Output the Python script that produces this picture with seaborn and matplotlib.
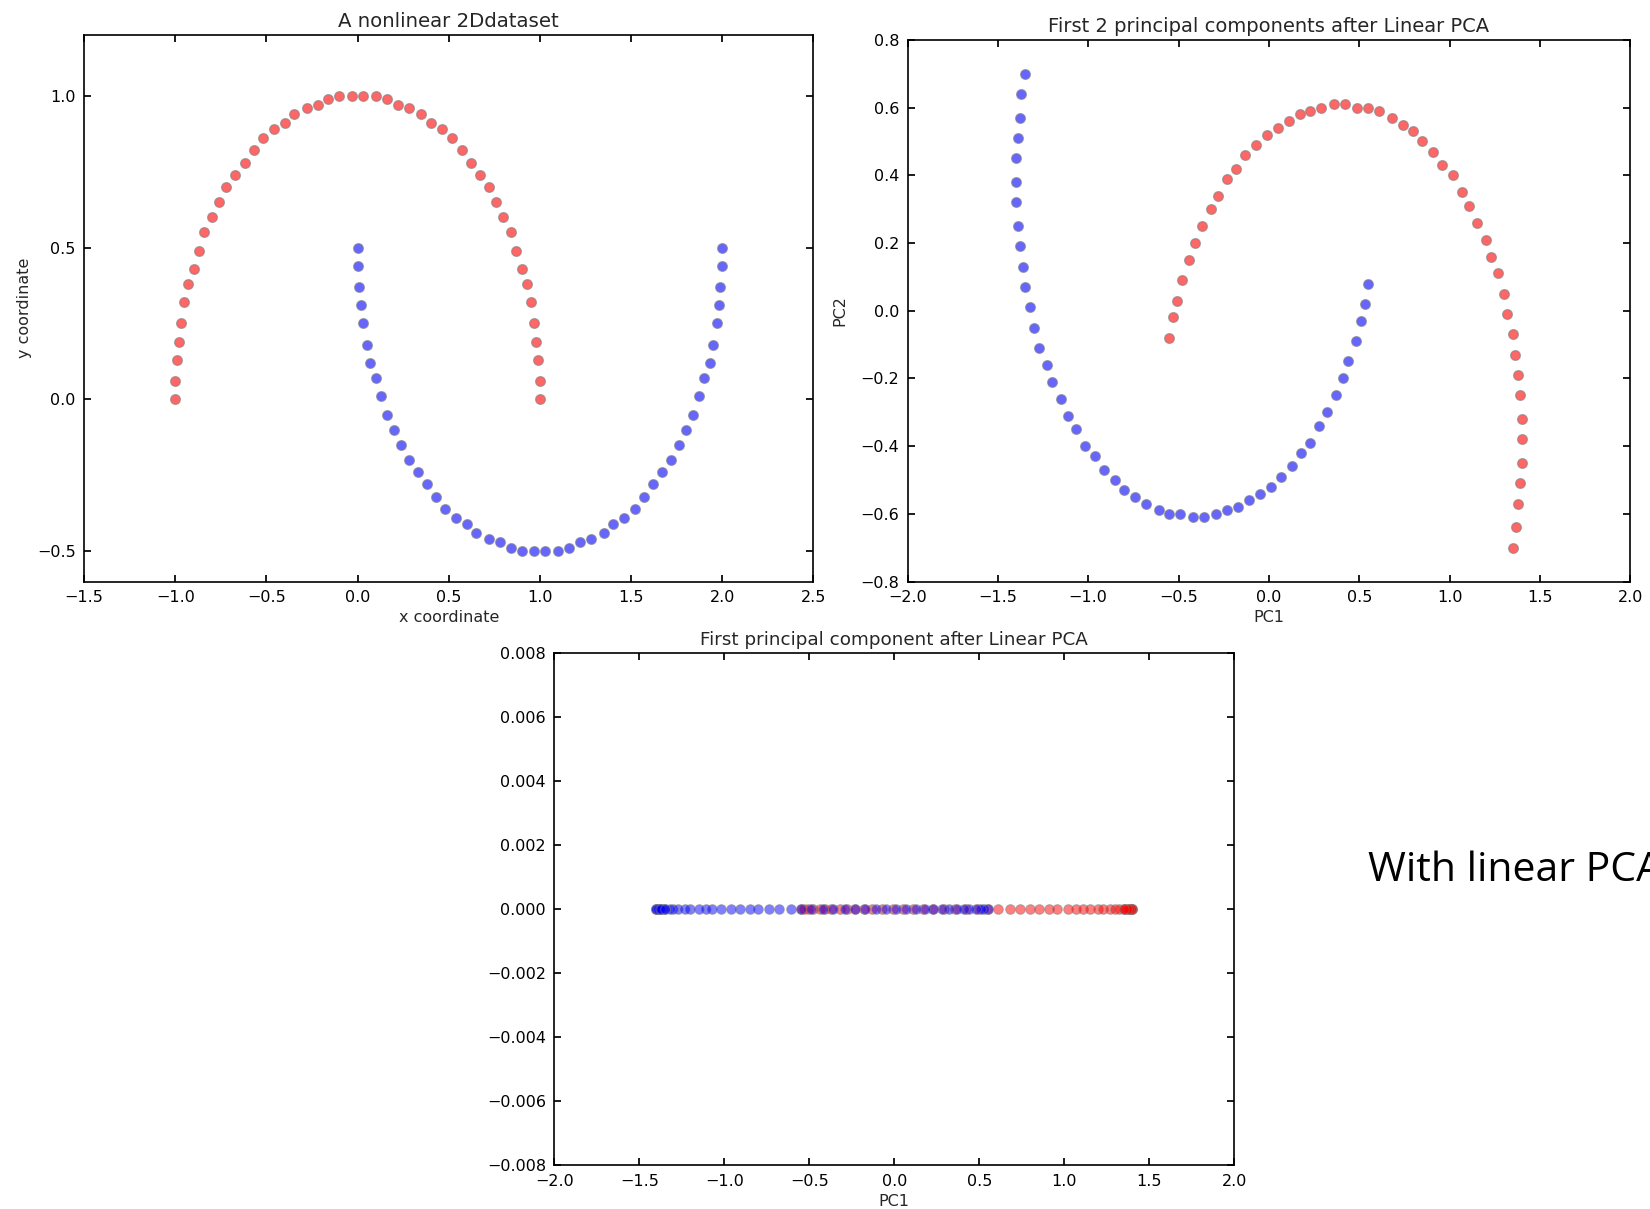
import numpy as np
import matplotlib
matplotlib.use("Agg")
import matplotlib.pyplot as plt
import seaborn as sns

# ------------------------------------------
# data (two half moons)
# ------------------------------------------
# outer moon (red)
outer_x = [1.00, 1.00, 0.99, 0.98, 0.97, 0.95, 0.93, 0.90, 0.87, 0.84, 0.80, 0.76, 0.72, 0.67, 0.62,
           0.57, 0.52, 0.46, 0.40, 0.35, 0.28, 0.22, 0.16, 0.10, 0.03, -0.03, -0.10, -0.16, -0.22, -0.28,
           -0.35, -0.40, -0.46, -0.52, -0.57, -0.62, -0.67, -0.72, -0.76, -0.80, -0.84, -0.87, -0.90,
           -0.93, -0.95, -0.97, -0.98, -0.99, -1.00, -1.00]
outer_y = [0.00, 0.06, 0.13, 0.19, 0.25, 0.32, 0.38, 0.43, 0.49, 0.55, 0.60, 0.65, 0.70, 0.74, 0.78,
           0.82, 0.86, 0.89, 0.91, 0.94, 0.96, 0.97, 0.99, 1.00, 1.00, 1.00, 1.00, 0.99, 0.97, 0.96,
           0.94, 0.91, 0.89, 0.86, 0.82, 0.78, 0.74, 0.70, 0.65, 0.60, 0.55, 0.49, 0.43, 0.38, 0.32,
           0.25, 0.19, 0.13, 0.06, 0.00]
# inner moon (blue)
inner_x = [0.00, 0.00, 0.01, 0.02, 0.03, 0.05, 0.07, 0.10, 0.13, 0.16, 0.20, 0.24, 0.28, 0.33, 0.38,
           0.43, 0.48, 0.54, 0.60, 0.65, 0.72, 0.78, 0.84, 0.90, 0.97, 1.03, 1.10, 1.16, 1.22, 1.28,
           1.35, 1.40, 1.46, 1.52, 1.57, 1.62, 1.67, 1.72, 1.76, 1.80, 1.84, 1.87, 1.90, 1.93, 1.95,
           1.97, 1.98, 1.99, 2.00, 2.00]
inner_y = [0.50, 0.44, 0.37, 0.31, 0.25, 0.18, 0.12, 0.07, 0.01, -0.05, -0.10, -0.15, -0.20, -0.24,
           -0.28, -0.32, -0.36, -0.39, -0.41, -0.44, -0.46, -0.47, -0.49, -0.50, -0.50, -0.50, -0.50,
           -0.49, -0.47, -0.46, -0.44, -0.41, -0.39, -0.36, -0.32, -0.28, -0.24, -0.20, -0.15, -0.10,
           -0.05, 0.01, 0.07, 0.12, 0.18, 0.25, 0.31, 0.37, 0.44, 0.50]

# after linear PCA
red_pc1 = [-0.55, -0.53, -0.51, -0.48, -0.44, -0.41, -0.37, -0.32, -0.28, -0.23, -0.18, -0.13, -0.07,
           -0.01, 0.05, 0.11, 0.17, 0.23, 0.29, 0.36, 0.42, 0.49, 0.55, 0.61, 0.68, 0.74, 0.80, 0.85,
           0.91, 0.96, 1.02, 1.07, 1.11, 1.15, 1.20, 1.23, 1.27, 1.30, 1.32, 1.35, 1.36, 1.38, 1.39,
           1.40, 1.40, 1.40, 1.39, 1.38, 1.37, 1.35]
red_pc2 = [-0.08, -0.02, 0.03, 0.09, 0.15, 0.20, 0.25, 0.30, 0.34, 0.39, 0.42, 0.46, 0.49, 0.52, 0.54,
           0.56, 0.58, 0.59, 0.60, 0.61, 0.61, 0.60, 0.60, 0.59, 0.57, 0.55, 0.53, 0.50, 0.47, 0.43,
           0.40, 0.35, 0.31, 0.26, 0.21, 0.16, 0.11, 0.05, -0.01, -0.07, -0.13, -0.19, -0.25, -0.32,
           -0.38, -0.45, -0.51, -0.57, -0.64, -0.70]
blue_pc1 = [0.55, 0.53, 0.51, 0.48, 0.44, 0.41, 0.37, 0.32, 0.28, 0.23, 0.18, 0.13, 0.07, 0.01, -0.05,
            -0.11, -0.17, -0.23, -0.29, -0.36, -0.42, -0.49, -0.55, -0.61, -0.68, -0.74, -0.80, -0.85,
            -0.91, -0.96, -1.02, -1.07, -1.11, -1.15, -1.20, -1.23, -1.27, -1.30, -1.32, -1.35, -1.36,
            -1.38, -1.39, -1.40, -1.40, -1.40, -1.39, -1.38, -1.37, -1.35]
blue_pc2 = [0.08, 0.02, -0.03, -0.09, -0.15, -0.20, -0.25, -0.30, -0.34, -0.39, -0.42, -0.46, -0.49,
            -0.52, -0.54, -0.56, -0.58, -0.59, -0.60, -0.61, -0.61, -0.60, -0.60, -0.59, -0.57, -0.55,
            -0.53, -0.50, -0.47, -0.43, -0.40, -0.35, -0.31, -0.26, -0.21, -0.16, -0.11, -0.05, 0.01,
            0.07, 0.13, 0.19, 0.25, 0.32, 0.38, 0.45, 0.51, 0.57, 0.64, 0.70]

# ------------------------------------------
# style
# ------------------------------------------
sns.set_theme(style="ticks", rc={
    "xtick.direction": "in", "ytick.direction": "in",
    "xtick.top": True, "ytick.right": True,
    "xtick.major.size": 5, "ytick.major.size": 5,
    "axes.edgecolor": "black", "axes.linewidth": 1.2,
    "xtick.color": "black", "ytick.color": "black",
})
plt.rcParams["font.family"] = ["DejaVu Sans"]
FS = 11.5

fig = plt.figure(figsize=(16.5, 12.09), dpi=100)

ax1 = fig.add_axes([0.051, 0.519, 0.442, 0.452])
ax2 = fig.add_axes([0.550, 0.519, 0.438, 0.448])
ax3 = fig.add_axes([0.336, 0.036, 0.412, 0.424])

pt = dict(s=50, alpha=0.6, edgecolor="#808080", linewidth=0.9, legend=False)

# 1. the raw data
sns.scatterplot(x=outer_x, y=outer_y, color="red", ax=ax1, **pt)
sns.scatterplot(x=inner_x, y=inner_y, color="blue", ax=ax1, **pt)
ax1.set_xlim(-1.5, 2.5)
ax1.set_ylim(-0.6, 1.2)
ax1.set_xticks(np.arange(-1.5, 2.51, 0.5))
ax1.set_yticks([-0.5, 0.0, 0.5, 1.0])
ax1.set_title("A nonlinear 2Ddataset", fontsize=14.2)
ax1.set_xlabel("x coordinate", fontsize=FS)
ax1.set_ylabel("y coordinate", fontsize=FS)

# 2. both principal components
sns.scatterplot(x=red_pc1, y=red_pc2, color="red", ax=ax2, **pt)
sns.scatterplot(x=blue_pc1, y=blue_pc2, color="blue", ax=ax2, **pt)
ax2.set_xlim(-2.0, 2.0)
ax2.set_ylim(-0.8, 0.8)
ax2.set_xticks(np.arange(-2.0, 2.01, 0.5))
ax2.set_yticks(np.arange(-0.8, 0.81, 0.2))
ax2.set_title("First 2 principal components after Linear PCA", fontsize=14)
ax2.set_xlabel("PC1", fontsize=FS)
ax2.set_ylabel("PC2", fontsize=FS)
ax2.yaxis.labelpad = 9

# 3. only the first component
zeros = [0.0] * len(red_pc1)
sns.scatterplot(x=red_pc1, y=zeros, color="red", ax=ax3, s=48, alpha=0.5,
                edgecolor="#808080", linewidth=0.8, legend=False)
sns.scatterplot(x=blue_pc1, y=zeros, color="blue", ax=ax3, s=48, alpha=0.5,
                edgecolor="#808080", linewidth=0.8, legend=False)
ax3.set_xlim(-2.0, 2.0)
ax3.set_ylim(-0.008, 0.008)
ax3.set_xticks(np.arange(-2.0, 2.01, 0.5))
ax3.set_yticks(np.arange(-0.008, 0.0081, 0.002))
ax3.set_yticklabels([f"{v:.3f}".replace("-", "\u2212") for v in np.arange(-0.008, 0.0081, 0.002)])
ax3.set_title("First principal component after Linear PCA", fontsize=13.2)
ax3.set_xlabel("PC1", fontsize=FS)

for ax in (ax1, ax2, ax3):
    ax.tick_params(labelsize=FS, pad=6)

fig.text(0.829, 0.28, "With linear PCA", fontsize=29.5, color="black",
         family=["Open Sans", "DejaVu Sans"], va="center", ha="left")

fig.savefig("out.png", dpi=100)
